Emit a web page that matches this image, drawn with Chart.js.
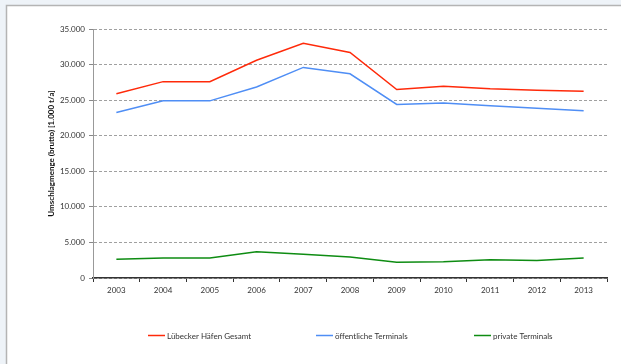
<!DOCTYPE html>
<html>
<head>
<meta charset="utf-8">
<script src="https://cdn.jsdelivr.net/npm/chart.js@4/dist/chart.umd.min.js"></script>
<style>
  html, body { margin: 0; padding: 0; background: #eef3f8; }
  #wrap { position: absolute; left: 0; top: 0; width: 621px; height: 364px; }
</style>
</head>
<body>
<div id="wrap"><canvas id="chart" width="621" height="364"></canvas></div>
<script>
const years = ["2003", "2004", "2005", "2006", "2007", "2008", "2009", "2010", "2011", "2012", "2013"];
const gesamt = [25900, 27600, 27600, 30600, 33000, 31700, 26500, 26950, 26600, 26400, 26250];
const oeffentlich = [23250, 24900, 24900, 26850, 29600, 28700, 24400, 24600, 24200, 23850, 23500];
const privat = [2650, 2800, 2800, 3700, 3350, 2950, 2200, 2300, 2550, 2450, 2800];

const seriesNames = ["Lübecker Häfen Gesamt", "öffentliche Terminals", "private Terminals"];
const seriesColors = ["#ff2a0a", "#4f8ef5", "#0e8c12"];
const legendX = [148, 316, 474];

const fontFamily = "Lato, 'Open Sans', sans-serif";
const textColor = "#333";

const fmt = new Intl.NumberFormat("de-DE");

const framePlugin = {
  id: "frame",
  beforeDraw(chart) {
    const ctx = chart.ctx;
    ctx.save();
    ctx.fillStyle = "#eef3f8";
    ctx.fillRect(0, 0, chart.width, chart.height);
    ctx.fillStyle = "#ffffff";
    ctx.fillRect(7, 6, chart.width - 7, chart.height - 6);
    ctx.strokeStyle = "#b4b4b4";
    ctx.lineWidth = 1.5;
    ctx.beginPath();
    ctx.moveTo(6.5, chart.height);
    ctx.lineTo(6.5, 5.5);
    ctx.lineTo(chart.width, 5.5);
    ctx.stroke();
    ctx.restore();
  }
};

const legendPlugin = {
  id: "customLegend",
  afterDraw(chart) {
    const ctx = chart.ctx;
    const y = 335;
    ctx.save();
    ctx.font = "8px " + fontFamily;
    ctx.textBaseline = "middle";
    ctx.fillStyle = textColor;
    seriesNames.forEach((name, i) => {
      ctx.strokeStyle = seriesColors[i];
      ctx.lineWidth = 1.5;
      ctx.beginPath();
      ctx.moveTo(legendX[i], y + 0.5);
      ctx.lineTo(legendX[i] + 17, y + 0.5);
      ctx.stroke();
      ctx.fillText(name, legendX[i] + 19, y + 1);
    });
    ctx.restore();
  }
};

function line(label, data, color) {
  return {
    label,
    data,
    borderColor: color,
    backgroundColor: color,
    borderWidth: 1.5,
    pointRadius: 0,
    tension: 0,
    fill: false,
  };
}

new Chart(document.getElementById("chart"), {
  type: "line",
  data: {
    labels: years,
    datasets: [
      line(seriesNames[0], gesamt, seriesColors[0]),
      line(seriesNames[1], oeffentlich, seriesColors[1]),
      line(seriesNames[2], privat, seriesColors[2]),
    ],
  },
  options: {
    responsive: false,
    animation: false,
    layout: { padding: { left: 47, right: 14, top: 29, bottom: 0 } },
    plugins: {
      legend: { display: false },
      tooltip: { enabled: false },
    },
    scales: {
      x: {
        offset: true,
        grid: {
          offset: true,
          drawOnChartArea: false,
          drawTicks: true,
          tickLength: 4,
          color: "#333",
        },
        border: { color: "#333", width: 1.5 },
        ticks: { color: textColor, font: { family: fontFamily, size: 8 }, padding: 4, maxRotation: 0 },
        afterFit(scale) { scale.height = 86; },
      },
      y: {
        min: 0,
        max: 35000,
        grid: {
          drawTicks: true,
          tickLength: 4,
          color: "#a0a0a0",
          tickColor: "#888",
        },
        border: { color: "#999", width: 1, dash: [3, 2] },
        ticks: {
          stepSize: 5000,
          color: textColor,
          font: { family: fontFamily, size: 8 },
          padding: 4,
          callback: (v) => fmt.format(v),
        },
        title: {
          display: true,
          text: "Umschlagmenge (brutto) [1.000 t/a]",
          color: "#111",
          font: { family: fontFamily, size: 8, weight: "bold" },
          padding: { top: 0, bottom: 0 },
        },
        afterFit(scale) { scale.width = 46; },
      },
    },
  },
  plugins: [framePlugin, legendPlugin],
});
</script>
</body>
</html>
